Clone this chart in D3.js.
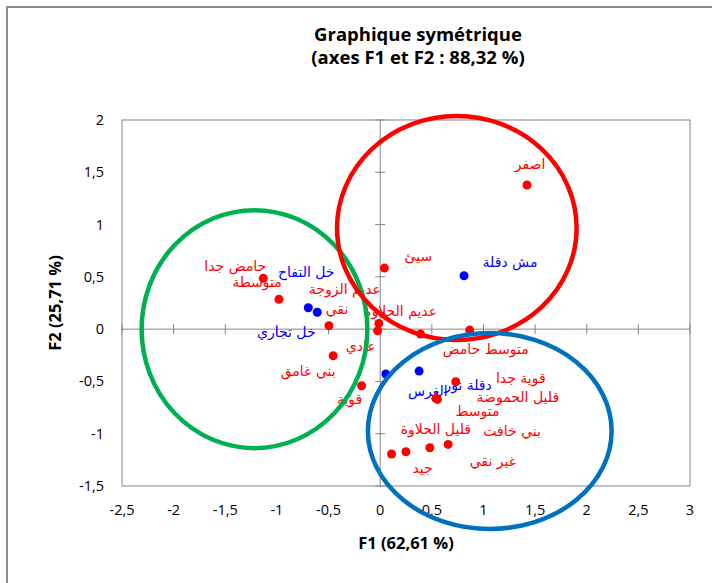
<!DOCTYPE html>
<html>
<head>
<meta charset="utf-8">
<script src="https://cdn.jsdelivr.net/npm/d3@7"></script>
<style>
  body { margin: 0; background: #fff; }
  svg { display: block; }
  .tick-label { font-family: "Open Sans", Roboto, sans-serif; font-size: 14.5px; fill: #000; }
  .axis-title { font-family: "Open Sans", Roboto, sans-serif; font-size: 16.5px; font-weight: bold; fill: #000; }
  .chart-title { font-family: "Open Sans", Roboto, sans-serif; font-size: 18.5px; font-weight: bold; fill: #000; }
  .pt-label { font-family: "DejaVu Sans", sans-serif; font-size: 14px; }
</style>
</head>
<body>
<svg id="chart" width="712" height="583"></svg>
<script>
  "use strict";

  /***** Data *****/
  var xTicks = [-2.5, -2, -1.5, -1, -0.5, 0, 0.5, 1, 1.5, 2, 2.5, 3];
  var yTicks = [-1.5, -1, -0.5, 0, 0.5, 1, 1.5, 2];

  // descriptors (red)
  var redNames = ["حامض جدا", "متوسطة", "نقي", "بني غامق", "قوية", "عديم الزوجة", "عادي",
    "سيئ", "عديم الحلاوة", "متوسط حامض", "اصفر", "قوية جدا", "قليل الحموضة", "متوسط",
    "جيد", "قليل الحلاوة", "غير نقي", "بني خافت"];
  var redF1 = [-1.132, -0.980, -0.496, -0.455, -0.180, -0.013, -0.025,
    0.041, 0.391, 0.867, 1.422, 0.732, 0.539, 0.555,
    0.110, 0.249, 0.481, 0.658];
  var redF2 = [0.486, 0.285, 0.033, -0.254, -0.541, 0.055, -0.015,
    0.584, -0.047, -0.009, 1.378, -0.503, -0.662, -0.672,
    -1.194, -1.172, -1.134, -1.102];

  // products (blue)
  var blueNames = ["خل التفاح", "خل تجاري", "الغرس", "دقلة نور", "مش دقلة"];
  var blueF1 = [-0.696, -0.609, 0.055, 0.377, 0.812];
  var blueF2 = [0.205, 0.161, -0.429, -0.401, 0.511];

  // groups drawn as ellipses (centre and radii in axis units)
  var groupColors = ["#00B050", "#FF0000", "#0070C0"];
  var groupCx = [-1.217, 0.742, 1.061];
  var groupCy = [0.0, 0.967, -0.974];
  var groupRx = [1.093, 1.160, 1.180];
  var groupRy = [1.138, 1.071, 0.937];

  /***** Layout *****/
  var plot = {left: 122, top: 120, right: 690, bottom: 486};

  // label nudges in pixels (labels were repositioned to avoid overlap)
  var redNudge = [[-28, -11], [-22, -16], [8, -16], [-25, 16], [-12, 14], [-34, -33], [-17, 16],
    [34, -11], [-20, -22], [16, 20], [3, -20], [65, -3], [82, 0], [40, 13],
    [31, 15], [30, -22], [63, 14], [64, -12]];
  var blueNudge = [[-2, -35], [-31, 21], [42, 18], [49, 15], [46, -13]];

  var svg = d3.select("#chart");

  /***** Scales *****/
  var x = d3.scaleLinear().domain([-2.5, 3]).range([plot.left, plot.right]);
  var y = d3.scaleLinear().domain([-1.5, 2]).range([plot.bottom, plot.top]);

  /***** Outer frame *****/
  svg.append("rect")
    .attr("x", 7).attr("y", 7)
    .attr("width", 730).attr("height", 600)
    .attr("fill", "none").attr("stroke", "#8c8c8c").attr("stroke-width", 2);

  /***** Plot frame and axes at zero *****/
  var axisColor = "#868686";
  svg.append("rect")
    .attr("x", plot.left).attr("y", plot.top)
    .attr("width", plot.right - plot.left).attr("height", plot.bottom - plot.top)
    .attr("fill", "none").attr("stroke", axisColor).attr("stroke-width", 1);

  var axes = svg.append("g").attr("stroke", axisColor).attr("stroke-width", 1);
  axes.append("line")
    .attr("x1", plot.left).attr("x2", plot.right)
    .attr("y1", y(0)).attr("y2", y(0));
  axes.append("line")
    .attr("x1", x(0)).attr("x2", x(0))
    .attr("y1", plot.top).attr("y2", plot.bottom);

  axes.selectAll(".xt").data(xTicks).enter().append("line")
    .attr("x1", function (d) { return x(d); }).attr("x2", function (d) { return x(d); })
    .attr("y1", y(0) - 5).attr("y2", y(0) + 5);
  axes.selectAll(".yt").data(yTicks).enter().append("line")
    .attr("y1", function (d) { return y(d); }).attr("y2", function (d) { return y(d); })
    .attr("x1", x(0) - 5).attr("x2", x(0) + 5);

  function fmt(v) { return String(v).replace(".", ","); }

  svg.selectAll(".xl").data(xTicks).enter().append("text")
    .attr("class", "tick-label")
    .attr("x", function (d) { return x(d); })
    .attr("y", plot.bottom + 29)
    .attr("text-anchor", "middle")
    .text(fmt);
  svg.selectAll(".yl").data(yTicks).enter().append("text")
    .attr("class", "tick-label")
    .attr("x", plot.left - 18)
    .attr("y", function (d) { return y(d) + 5; })
    .attr("text-anchor", "end")
    .text(fmt);

  /***** Titles *****/
  var title = svg.append("text").attr("class", "chart-title")
    .attr("x", 418).attr("y", 41).attr("text-anchor", "middle");
  title.append("tspan").attr("x", 418).text("Graphique symétrique");
  title.append("tspan").attr("x", 418).attr("dy", 23).text("(axes F1 et F2 : 88,32 %)");

  svg.append("text").attr("class", "axis-title")
    .attr("x", (plot.left + plot.right) / 2).attr("y", 549).attr("text-anchor", "middle")
    .text("F1 (62,61 %)");
  svg.append("text").attr("class", "axis-title")
    .attr("transform", "translate(61," + ((plot.top + plot.bottom) / 2) + ") rotate(-90)")
    .attr("text-anchor", "middle")
    .text("F2 (25,71 %)");

  /***** Points and labels *****/
  var labels = svg.append("g");
  var dots = svg.append("g");

  function drawSeries(names, f1, f2, nudge, color) {
    var rows = names.map(function (n, i) { return {name: n, f1: f1[i], f2: f2[i], nudge: nudge[i]}; });
    labels.selectAll(null).data(rows).enter().append("text")
      .attr("class", "pt-label")
      .attr("fill", color)
      .attr("text-anchor", "middle")
      .attr("direction", "rtl")
      .attr("x", function (d) { return x(d.f1) + d.nudge[0]; })
      .attr("y", function (d) { return y(d.f2) + d.nudge[1] + 4; })
      .text(function (d) { return d.name; });
    dots.selectAll(null).data(rows).enter().append("circle")
      .attr("cx", function (d) { return x(d.f1); })
      .attr("cy", function (d) { return y(d.f2); })
      .attr("r", 4.5)
      .attr("fill", color);
  }

  drawSeries(redNames, redF1, redF2, redNudge, "#FF0000");
  drawSeries(blueNames, blueF1, blueF2, blueNudge, "#0000FF");

  /***** Group ellipses *****/
  var groups = groupColors.map(function (c, i) {
    return {color: c, cx: groupCx[i], cy: groupCy[i], rx: groupRx[i], ry: groupRy[i]};
  });
  svg.append("g").selectAll("ellipse").data(groups).enter().append("ellipse")
    .attr("cx", function (d) { return x(d.cx); })
    .attr("cy", function (d) { return y(d.cy); })
    .attr("rx", function (d) { return x(d.cx + d.rx) - x(d.cx); })
    .attr("ry", function (d) { return y(d.cy) - y(d.cy + d.ry); })
    .attr("fill", "none")
    .attr("stroke", function (d) { return d.color; })
    .attr("stroke-width", 4.5);
</script>
</body>
</html>
